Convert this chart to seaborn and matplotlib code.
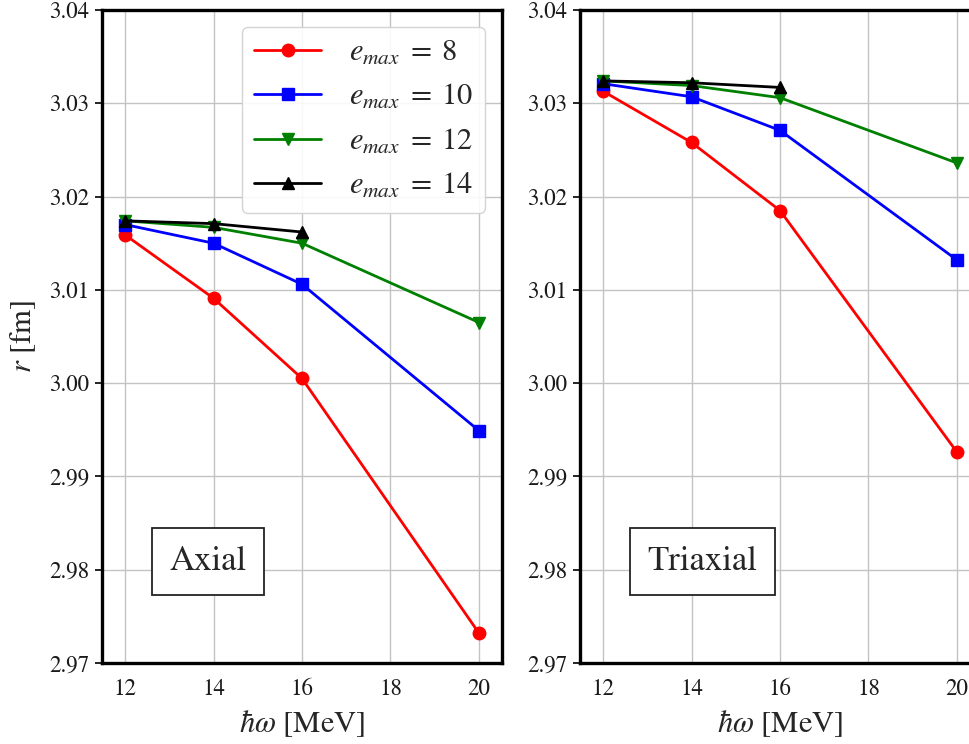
import numpy as np
import pandas as pd
import matplotlib
matplotlib.use("Agg")
import matplotlib.pyplot as plt
from matplotlib.ticker import FormatStrFormatter
import seaborn as sns

# Oscillator frequencies (MeV); the e_max = 14 runs stop at 16 MeV
hbar_omega = [12, 14, 16, 20]
hbar_omega_e14 = [12, 14, 16]
emax_levels = [8, 10, 12, 14]

# Radii r (fm), axial calculation
axial_e8 = [3.0159, 3.0091, 3.0005, 2.9732]
axial_e10 = [3.0170, 3.0150, 3.0106, 2.9949]
axial_e12 = [3.0174, 3.0167, 3.0150, 3.0065]
axial_e14 = [3.0174, 3.0171, 3.0162]

# Radii r (fm), triaxial calculation
triaxial_e8 = [3.0313, 3.0258, 3.0185, 2.9926]
triaxial_e10 = [3.0321, 3.0307, 3.0271, 3.0132]
triaxial_e12 = [3.0324, 3.0319, 3.0306, 3.0236]
triaxial_e14 = [3.0324, 3.0322, 3.0317]

y_ticks = [2.97, 2.98, 2.99, 3.00, 3.01, 3.02, 3.03, 3.04]
x_ticks = [12, 14, 16, 18, 20]

palette = {8: "red", 10: "blue", 12: "green", 14: "black"}
markers = {8: "o", 10: "s", 12: "v", 14: "^"}


def long_table(e8, e10, e12, e14):
    frames = []
    for emax, xs, ys in [(8, hbar_omega, e8), (10, hbar_omega, e10),
                         (12, hbar_omega, e12), (14, hbar_omega_e14, e14)]:
        frames.append(pd.DataFrame({"hw": xs, "r": ys, "emax": emax}))
    return pd.concat(frames, ignore_index=True)


sns.set_style("whitegrid")
plt.rcParams["font.family"] = ["STIXGeneral", "DejaVu Serif"]
plt.rcParams["mathtext.fontset"] = "stix"

fig = plt.figure(figsize=(9.70, 7.44), dpi=100)
ax_l = fig.add_axes([102 / 970, 81 / 744, 400 / 970, 653 / 744])
ax_r = fig.add_axes([580 / 970, 81 / 744, 400 / 970, 653 / 744])

panels = [
    (ax_l, long_table(axial_e8, axial_e10, axial_e12, axial_e14), "Axial", 0.264),
    (ax_r, long_table(triaxial_e8, triaxial_e10, triaxial_e12, triaxial_e14), "Triaxial", 0.306),
]

for ax, df, name, tx in panels:
    sns.lineplot(data=df, x="hw", y="r", hue="emax", style="emax",
                 hue_order=emax_levels, style_order=emax_levels,
                 palette=palette, markers=markers, dashes=False,
                 markersize=9, linewidth=2.0, sort=False,
                 errorbar=None, legend=False, ax=ax)
    for ln in ax.lines:
        ln.set_markeredgecolor(ln.get_color())
        ln.set_markeredgewidth(1.0)

    ax.set_xlim(11.48, 20.52)
    ax.set_ylim(2.97, 3.04)
    ax.set_xticks(x_ticks)
    ax.set_yticks(y_ticks)
    ax.yaxis.set_major_formatter(FormatStrFormatter("%.2f"))
    ax.grid(True, color="#c3c3c3", linewidth=1.0)
    ax.tick_params(axis="y", left=True, length=5, width=1.2, color="black",
                   labelsize=16.5, pad=4, labelcolor="#1a1a1a")
    ax.tick_params(axis="x", bottom=False, labelsize=16.5, pad=8,
                   labelcolor="#1a1a1a")
    for sp in ax.spines.values():
        sp.set_color("black")
        sp.set_linewidth(2.4)
    ax.set_xlabel(r"$\hbar\omega$ [MeV]", fontsize=22, labelpad=6)
    ax.set_ylabel("")
    ax.text(tx, 0.155, name, transform=ax.transAxes, fontsize=25,
            ha="center", va="center",
            bbox=dict(boxstyle="square,pad=0.5", facecolor="white",
                      edgecolor="#222222", linewidth=1.3))

ax_l.set_ylabel(r"$r$ [fm]", fontsize=22, labelpad=8)

handles = ax_l.lines[:4]
labels = [rf"$e_{{max}}\;=\;{e}$" for e in emax_levels]
ax_l.legend(handles, labels, loc="upper right", fontsize=22,
            handlelength=2.2, handletextpad=0.9, borderaxespad=0.55,
            framealpha=0.9, edgecolor="#d0d0d0")

fig.savefig("out.png", dpi=100)
